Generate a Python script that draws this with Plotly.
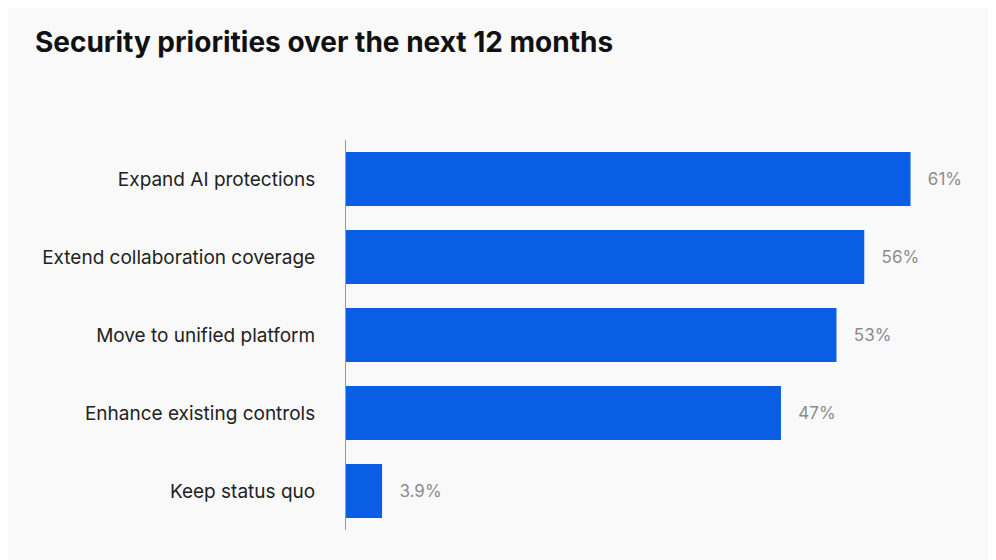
import plotly.graph_objects as go

categories = ["Expand AI protections", "Extend collaboration coverage", "Move to unified platform",
              "Enhance existing controls", "Keep status quo"]
values = [61, 56, 53, 47, 3.9]
labels = ["61%", "56%", "53%", "47%", "3.9%"]

fig = go.Figure(go.Bar(
    x=values, y=categories, orientation="h",
    marker=dict(color="#0a5ee6", line=dict(width=0)),
    text=["\u00a0\u00a0\u00a0" + l for l in labels], textposition="outside", cliponaxis=False,
    textfont=dict(size=17, color="#8c8c8c", family="Inter"),
))
fig.update_layout(
    width=996, height=560,
    paper_bgcolor="#f9f9f9", plot_bgcolor="#f9f9f9",
    margin=dict(l=338, r=0, t=132, b=38),
    bargap=0.31,
    showlegend=False,
    title=dict(text="<b>Security priorities over the next 12 months</b>", x=0.027, xanchor="left",
               y=0.939, yanchor="middle", font=dict(size=28, color="#111", family="Inter")),
    font=dict(family="Inter"),
)
fig.update_xaxes(range=[0, 71.1], visible=False)
fig.update_yaxes(autorange="reversed", showline=True, linecolor="#999", linewidth=1,
                 ticks="", ticklabelstandoff=26, tickfont=dict(size=19, color="#222"),
                 showgrid=False)
fig.write_html("out.html")
